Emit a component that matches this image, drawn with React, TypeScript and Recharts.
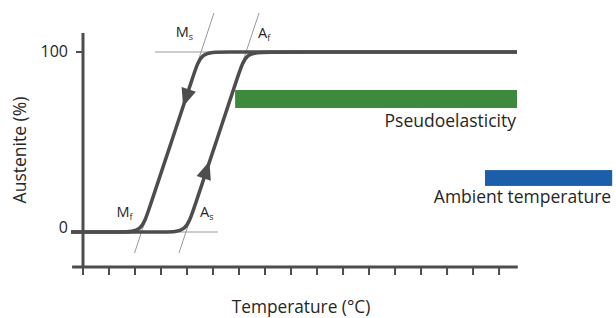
import React from 'react';
import {
  ComposedChart,
  Line,
  XAxis,
  YAxis,
  ReferenceLine,
  ReferenceArea,
  Scatter,
} from 'recharts';

// ---------- data (x in temperature tick units, y in % austenite) ----------
const xTicks = [0, 1, 2, 3, 4, 5, 6, 7, 8, 9, 10, 11, 12, 13, 14, 15, 16];
const yTicks = [0, 100];

// transformation temperatures
const Mf = 2.25;
const Ms = 4.54;
const As = 3.96;
const Af = 6.27;

// cooling branch (austenite -> martensite)
const coolingX = [-0.46, 0.5, 1.45, 2.25, 2.52, 3.4, 4.27, 4.54, 5.34, 8.0, 16.69];
const coolingY = [0, 0, 0, 0, 12, 50, 88, 100, 100, 100, 100];
// heating branch (martensite -> austenite)
const heatingX = [-0.46, 2.0, 3.16, 3.96, 4.24, 5.12, 5.99, 6.27, 7.07, 16.69];
const heatingY = [0, 0, 0, 0, 12, 50, 88, 100, 100, 100];

// direction arrows on the branches
const arrowX = [3.97, 4.74];
const arrowY = [75, 34];
const arrowDir = ['down', 'up'];

// ranges
const pseudoRange = [5.85, 16.69];
const pseudoLevel = [68.9, 78.9];
const ambientRange = [15.46, 20.35];
const ambientLevel = [25.6, 34.4];

// tangent construction lines
const tangentTop = 121.7;
const tangentBottom = -11.7;

const yMin = -19.44;
const yMax = 125;
const yAxisTop = 110.6;

const coolingData = coolingX.map((x, i) => ({ x, y: coolingY[i] }));
const heatingData = heatingX.map((x, i) => ({ x, y: heatingY[i] }));
const arrowData = arrowX.map((x, i) => ({ x, y: arrowY[i], dir: arrowDir[i] }));
const transitionData = [
  { x: Ms, y: 100, main: 'M', sub: 's' },
  { x: Af, y: 100, main: 'A', sub: 'f' },
  { x: Mf, y: 0, main: 'M', sub: 'f' },
  { x: As, y: 0, main: 'A', sub: 's' },
];

// ---------- styles ----------
const FONT = "'Open Sans', sans-serif";
const DARK = '#4d4d4d';
const THIN = '#9a9a9a';
const TEXT = '#262626';
const GREEN = '#3d8a3d';
const BLUE = '#1b5fab';

const labelOffsets: Record<string, { dx: number; dy: number; anchor: 'start' | 'end' }> = {
  Ms: { dx: -8, dy: -15, anchor: 'end' },
  Af: { dx: 12, dy: -14, anchor: 'start' },
  Mf: { dx: -9, dy: -15, anchor: 'end' },
  As: { dx: 14, dy: -15, anchor: 'start' },
};

const slopeAt = (a: number, b: number, y: number) => a + ((b - a) * y) / 100;

const ArrowShape = (props: any) => {
  const { cx, cy, payload } = props;
  if (cx == null || cy == null) return null;
  const angle = payload.dir === 'down' ? 198.4 : 18.4;
  return (
    <polygon
      points="0,-10 -7.5,8 7.5,8"
      fill={DARK}
      transform={`translate(${cx},${cy}) rotate(${angle})`}
    />
  );
};

const TransitionLabel = (props: any) => {
  const { cx, cy, payload } = props;
  if (cx == null || cy == null) return null;
  const off = labelOffsets[payload.main + payload.sub];
  return (
    <text
      x={cx + off.dx}
      y={cy + off.dy}
      textAnchor={off.anchor}
      fontFamily={FONT}
      fontSize={14.5}
      fill={TEXT}
    >
      <tspan>{payload.main}</tspan>
      <tspan fontSize={9} dy={3}>
        {payload.sub}
      </tspan>
    </text>
  );
};

const YTick = (props: any) => {
  const { x, y, payload } = props;
  return (
    <text
      x={x + 5}
      y={y + (payload.value === 0 ? 1 : 5)}
      textAnchor="end"
      fontFamily={FONT}
      fontSize={16}
      fill={TEXT}
    >
      {payload.value}
    </text>
  );
};

const barShape = (label: string, color: string, gap: number) => (props: any) => {
  const { x, y, width, height } = props;
  return (
    <g>
      <rect x={x} y={y} width={width} height={height} fill={color} />
      <text
        x={x + width - 1}
        y={y + height + gap}
        textAnchor="end"
        fontFamily={FONT}
        fontSize={17.5}
        fill={TEXT}
      >
        {label}
      </text>
    </g>
  );
};

export default function App() {
  return (
    <div style={{ position: 'absolute', left: 0, top: 0, width: 616, height: 318 }}>
      <ComposedChart
        width={616}
        height={318}
        margin={{ top: 7, right: 99, bottom: 0, left: 0 }}
      >
        <XAxis
          type="number"
          dataKey="x"
          domain={[-0.769, 16.69]}
          ticks={xTicks}
          height={51}
          axisLine={false}
          tickLine={{ stroke: DARK, strokeWidth: 2 }}
          tickSize={8}
          tickFormatter={() => ''}
          allowDataOverflow
          label={{
            content: (p: any) => {
              const vb = p.viewBox || {};
              return (
                <text
                  x={vb.x + vb.width / 2 + 11}
                  y={vb.y + 46}
                  textAnchor="middle"
                  fontFamily={FONT}
                  fontSize={17.3}
                  fill={TEXT}
                >
                  Temperature (°C)
                </text>
              );
            },
          }}
        />
        <YAxis
          type="number"
          dataKey="y"
          domain={[yMin, yMax]}
          ticks={yTicks}
          width={63}
          axisLine={false}
          tickLine={false}
          tickSize={0}
          tickMargin={0}
          tick={<YTick />}
          allowDataOverflow
          label={{
            content: (p: any) => {
              const vb = p.viewBox || {};
              const cx = 19;
              const cy = vb.y + vb.height / 2 + 13;
              return (
                <text
                  x={cx}
                  y={cy}
                  textAnchor="middle"
                  dominantBaseline="central"
                  transform={`rotate(-90, ${cx}, ${cy})`}
                  fontFamily={FONT}
                  fontSize={17.5}
                  fill={TEXT}
                >
                  Austenite (%)
                </text>
              );
            },
          }}
        />

        {/* thin construction lines */}
        <ReferenceLine
          segment={[{ x: 2.77, y: 100 }, { x: 5.2, y: 100 }]}
          stroke={THIN}
          strokeWidth={1}
          ifOverflow="visible"
        />
        <ReferenceLine
          segment={[{ x: 3.5, y: 0 }, { x: 5.19, y: 0 }]}
          stroke={THIN}
          strokeWidth={1}
          ifOverflow="visible"
        />
        <ReferenceLine
          segment={[
            { x: slopeAt(Mf, Ms, tangentTop), y: tangentTop },
            { x: slopeAt(Mf, Ms, 85), y: 85 },
          ]}
          stroke={THIN}
          strokeWidth={1}
          ifOverflow="visible"
        />
        <ReferenceLine
          segment={[
            { x: slopeAt(As, Af, tangentTop), y: tangentTop },
            { x: slopeAt(As, Af, 85), y: 85 },
          ]}
          stroke={THIN}
          strokeWidth={1}
          ifOverflow="visible"
        />
        <ReferenceLine
          segment={[
            { x: slopeAt(Mf, Ms, tangentBottom), y: tangentBottom },
            { x: slopeAt(Mf, Ms, 15), y: 15 },
          ]}
          stroke={THIN}
          strokeWidth={1}
          ifOverflow="visible"
        />
        <ReferenceLine
          segment={[
            { x: slopeAt(As, Af, tangentBottom), y: tangentBottom },
            { x: slopeAt(As, Af, 15), y: 15 },
          ]}
          stroke={THIN}
          strokeWidth={1}
          ifOverflow="visible"
        />

        {/* range bars */}
        <ReferenceArea
          x1={pseudoRange[0]}
          x2={pseudoRange[1]}
          y1={pseudoLevel[0]}
          y2={pseudoLevel[1]}
          ifOverflow="visible"
          shape={barShape('Pseudoelasticity', GREEN, 19)}
        />
        <ReferenceArea
          x1={ambientRange[0]}
          x2={ambientRange[1]}
          y1={ambientLevel[0]}
          y2={ambientLevel[1]}
          ifOverflow="visible"
          shape={barShape('Ambient temperature', BLUE, 17)}
        />

        {/* axes lines */}
        <ReferenceLine
          segment={[{ x: 0, y: yMin }, { x: 0, y: yAxisTop }]}
          stroke={DARK}
          strokeWidth={3}
          ifOverflow="visible"
        />
        <ReferenceLine
          segment={[{ x: -0.42, y: yMin }, { x: 16.72, y: yMin }]}
          stroke={DARK}
          strokeWidth={3}
          ifOverflow="visible"
        />
        <ReferenceLine
          segment={[{ x: -0.27, y: 100 }, { x: 0, y: 100 }]}
          stroke={DARK}
          strokeWidth={2}
          ifOverflow="visible"
        />

        {/* hysteresis branches */}
        <Line
          data={coolingData}
          dataKey="y"
          type="basis"
          stroke={DARK}
          strokeWidth={3.5}
          dot={false}
          activeDot={false}
          isAnimationActive={false}
        />
        <Line
          data={heatingData}
          dataKey="y"
          type="basis"
          stroke={DARK}
          strokeWidth={3.5}
          dot={false}
          activeDot={false}
          isAnimationActive={false}
        />
        <Scatter
          data={arrowData}
          dataKey="y"
          shape={<ArrowShape />}
          isAnimationActive={false}
        />
        <Scatter
          data={transitionData}
          dataKey="y"
          shape={<TransitionLabel />}
          isAnimationActive={false}
        />
      </ComposedChart>
    </div>
  );
}
